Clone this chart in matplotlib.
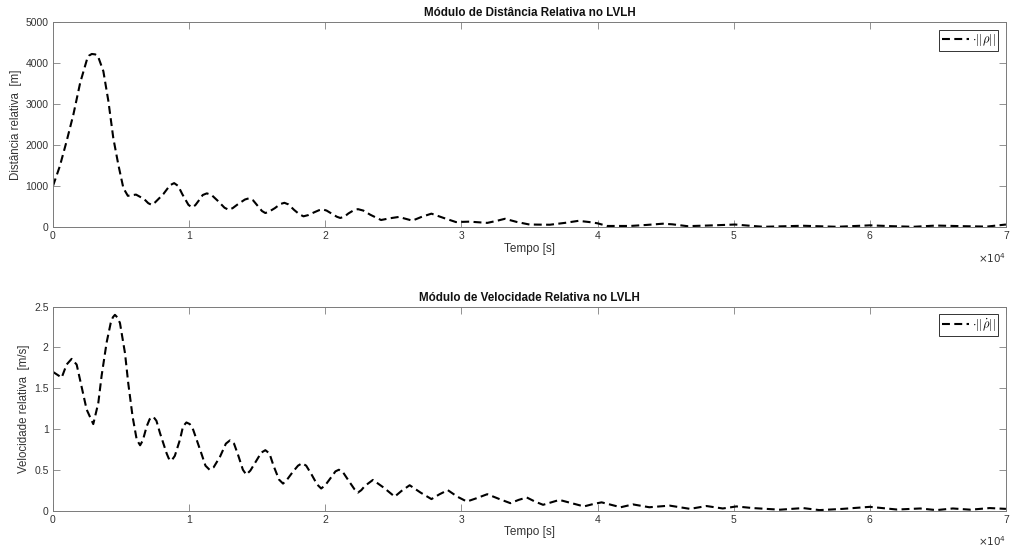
import numpy as np
import matplotlib
matplotlib.use("Agg")
import matplotlib.pyplot as plt
from matplotlib.ticker import MultipleLocator

plt.rcParams["font.family"] = ["Liberation Sans", "DejaVu Sans"]
plt.rcParams["mathtext.fontset"] = "cm"

# relative distance |rho| [m] versus time [s]
t_rho = np.array([
    0, 0.5, 1.0, 1.5, 2.0, 2.5, 2.65, 2.85, 3.1, 3.3, 3.7, 4.07, 4.43, 4.8,
    5.17, 5.5, 6.1, 6.7, 7.0, 7.25, 7.5, 8.1, 8.6, 8.9, 9.2, 9.5, 9.95, 10.2,
    10.45, 10.7, 11.0, 11.3, 11.65, 12.1, 12.6, 12.9, 13.2, 13.6, 14.1, 14.4,
    14.7, 15.0, 15.35, 15.6, 15.9, 16.3, 16.7, 17.0, 17.3, 17.7, 18.1, 18.4,
    18.75, 19.2, 19.55, 19.8, 20.1, 20.5, 20.85, 21.1, 21.4, 21.7, 22.1, 22.4,
    22.8, 23.3, 24.1, 24.7, 25.4, 25.9, 26.4, 27.1, 27.8, 28.7, 29.6, 30.6,
    31.9, 32.6, 33.2, 34.1, 35.0, 36.5, 37.6, 38.6, 39.4, 40.0, 40.7, 42.4,
    43.6, 44.8, 45.5, 46.6, 48.5, 50.1, 51.2, 52.2, 55.1, 57.6, 60.0, 61.6,
    63.2, 64.9, 66.8, 68.6, 70.0]) * 1e3
rho = np.array([
    1000, 1480, 2090, 2745, 3520, 4090, 4180, 4220, 4210, 4170, 3800, 3070,
    2170, 1520, 950, 760, 790, 680, 580, 540, 600, 800, 1020, 1070, 1000, 800,
    540, 480, 530, 640, 780, 820, 780, 640, 470, 420, 460, 560, 670, 700, 650,
    530, 390, 340, 380, 460, 560, 590, 550, 420, 310, 260, 290, 360, 410, 430,
    400, 320, 250, 220, 250, 330, 410, 435, 400, 300, 170, 210, 245, 200, 155,
    250, 325, 220, 120, 130, 100, 150, 200, 120, 60, 55, 100, 150, 120, 90,
    25, 25, 50, 80, 65, 20, 40, 60, 30, 5, 30, 5, 40, 20, 5, 35, 20, 10, 60])

# relative velocity |rho_dot| [m/s] versus time [s]
t_vel = np.array([
    0, 0.64, 1.0, 1.37, 1.74, 2.1, 2.47, 2.96, 3.33, 3.57, 3.94, 4.24, 4.4,
    4.55, 4.72, 4.92, 5.29, 5.53, 5.85, 6.15, 6.4, 6.6, 6.88, 7.1, 7.37, 7.6,
    7.86, 8.35, 8.5, 8.7, 8.95, 9.33, 9.55, 9.8, 10.05, 10.3, 10.9, 11.2,
    11.5, 11.8, 12.27, 12.7, 13.0, 13.3, 13.6, 13.95, 14.2, 14.5, 14.9, 15.3,
    15.6, 15.9, 16.2, 16.6, 16.9, 17.2, 17.6, 18.0, 18.3, 18.6, 19.0, 19.4,
    19.7, 20.0, 20.4, 20.75, 21.0, 21.3, 21.7, 22.15, 22.4, 22.65, 22.9, 23.5,
    24.3, 25.1, 25.6, 26.2, 27.0, 27.8, 28.4, 29.0, 29.7, 30.4, 31.1, 31.9,
    32.8, 33.6, 34.2, 34.8, 35.4, 36.0, 36.6, 37.2, 38.1, 39.0, 39.7, 40.3,
    41.0, 41.7, 42.6, 43.8, 45.3, 46.8, 48.0, 49.2, 50.2, 51.4, 53.4, 55.1,
    56.3, 58.0, 60.0, 62.0, 63.7, 64.9, 66.1, 67.4, 68.8, 70.0]) * 1e3
vel = np.array([
    1.70, 1.63, 1.79, 1.86, 1.79, 1.52, 1.24, 1.06, 1.32, 1.65, 2.06, 2.30,
    2.37, 2.40, 2.37, 2.30, 1.93, 1.56, 1.15, 0.87, 0.80, 0.86, 1.03, 1.12,
    1.15, 1.10, 0.95, 0.70, 0.64, 0.61, 0.67, 0.87, 1.03, 1.08, 1.06, 0.99,
    0.70, 0.55, 0.50, 0.53, 0.66, 0.82, 0.86, 0.82, 0.68, 0.50, 0.44, 0.49,
    0.60, 0.71, 0.74, 0.70, 0.55, 0.38, 0.33, 0.38, 0.47, 0.55, 0.58, 0.55,
    0.44, 0.32, 0.27, 0.31, 0.40, 0.48, 0.50, 0.47, 0.37, 0.26, 0.22, 0.25,
    0.30, 0.375, 0.28, 0.17, 0.24, 0.31, 0.22, 0.14, 0.20, 0.25, 0.17, 0.11,
    0.15, 0.20, 0.14, 0.09, 0.13, 0.16, 0.11, 0.07, 0.10, 0.13, 0.09, 0.05,
    0.08, 0.10, 0.07, 0.04, 0.075, 0.04, 0.06, 0.02, 0.055, 0.025, 0.05,
    0.03, 0.01, 0.03, 0.005, 0.02, 0.045, 0.012, 0.025, 0.005, 0.025, 0.01,
    0.03, 0.02])

fig = plt.figure(figsize=(10.11, 5.5), dpi=100)
ax1 = fig.add_axes([0.0524, 0.5873, 0.9426, 0.3727])
ax2 = fig.add_axes([0.0524, 0.0718, 0.9426, 0.3706])

panels = [
    (ax1, t_rho, rho, r"$\cdot||\rho||$", "Módulo de Distância Relativa no LVLH",
     "Distância relativa  [m]", (0, 5000), 1000),
    (ax2, t_vel, vel, r"$\cdot||\dot{\rho}||$", "Módulo de Velocidade Relativa no LVLH",
     "Velocidade relativa  [m/s]", (0, 2.5), 0.5),
]

for ax, t, y, lab, title, ylab, ylim, ystep in panels:
    line, = ax.plot(t, y, color="black", lw=1.5, ls="--", label=lab,
                    dash_joinstyle="round", dash_capstyle="butt")
    line.set_dashes((3.8, 2.1))
    ax.set_xlim(0, 70000)
    ax.set_ylim(*ylim)
    ax.xaxis.set_major_locator(MultipleLocator(10000))
    ax.yaxis.set_major_locator(MultipleLocator(ystep))
    ax.xaxis.set_major_formatter(lambda v, pos: f"{v / 1e4:g}")
    ax.yaxis.set_major_formatter(lambda v, pos: f"{v:g}")
    ax.tick_params(direction="in", top=True, right=True, length=5, width=0.6,
                   color="#808080", labelcolor="#333333", labelsize=7.5, pad=3)
    for s in ax.spines.values():
        s.set_color("#7a7a7a")
        s.set_linewidth(0.7)
    ax.set_title(title, fontsize=8.4, fontweight="bold", pad=4, color="#111111")
    ax.set_xlabel("Tempo [s]", fontsize=8.5, color="#333333", labelpad=1)
    ax.set_ylabel(ylab, fontsize=8.3, color="#333333", labelpad=3)
    ax.text(1.0, -0.15, r"$\times10^{4}$", transform=ax.transAxes,
            ha="right", va="center", fontsize=7.5, color="#333333",
            math_fontfamily="dejavusans")
    leg = ax.legend(loc="upper right", fontsize=9, handlelength=2.2,
                    handletextpad=0.2, borderpad=0.2, borderaxespad=0.6,
                    fancybox=False, framealpha=1)
    leg.get_frame().set_edgecolor("#333333")
    leg.get_frame().set_linewidth(0.7)

fig.savefig("out.png", dpi=100)
